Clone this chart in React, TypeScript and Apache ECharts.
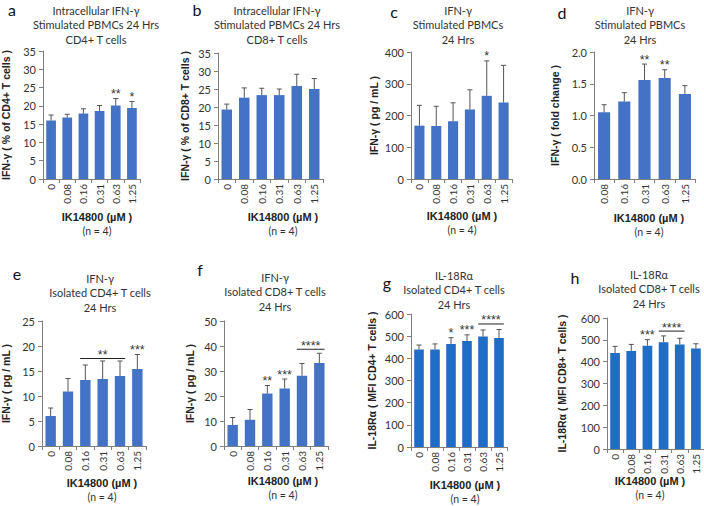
import React, { useEffect, useRef } from "react";
import * as echarts from "echarts";

const CATS6 = ["0", "0.08", "0.16", "0.31", "0.63", "1.25"];
const CATS5 = ["0.08", "0.16", "0.31", "0.63", "1.25"];

const aMean = [16.0, 16.8, 17.9, 18.6, 20.1, 19.4];
const aErr = [1.5, 0.9, 1.3, 1.5, 1.9, 1.8];
const bMean = [19.3, 22.6, 23.3, 23.3, 25.8, 25.0];
const bErr = [1.5, 2.7, 1.9, 1.7, 3.3, 2.9];
const cMean = [168, 167, 182, 219, 262, 241];
const cErr = [64, 62, 58, 62, 110, 117];
const dMean = [1.05, 1.22, 1.56, 1.59, 1.34];
const dErr = [0.12, 0.14, 0.25, 0.13, 0.13];
const eMean = [6.0, 10.9, 13.2, 13.4, 14.0, 15.4];
const eErr = [1.6, 2.6, 3.0, 3.6, 3.0, 2.9];
const fMean = [8.4, 10.5, 21.0, 23.0, 28.1, 33.2];
const fErr = [3.0, 4.1, 3.2, 3.8, 4.9, 3.9];
const gMean = [440, 440, 465, 478, 498, 492];
const gErr = [20, 25, 28, 28, 30, 38];
const hMean = [440, 449, 473, 489, 479, 460];
const hErr = [30, 30, 28, 29, 28, 22];

// significance stars above single bars: [category index, label]
const aStars: [number, string][] = [[4, "**"], [5, "*"]];
const bStars: [number, string][] = [];
const cStars: [number, string][] = [[4, "*"]];
const dStars: [number, string][] = [[2, "**"], [3, "**"]];
const eStars: [number, string][] = [[5, "***"]];
const fStars: [number, string][] = [[2, "**"], [3, "***"]];
const gStars: [number, string][] = [[2, "*"], [3, "***"]];
const hStars: [number, string][] = [[2, "***"]];

// brackets: [start index, end index, y value, label]
const eBrackets: [number, number, number, string][] = [[2, 4, 17.5, "**"]];
const fBrackets: [number, number, number, string][] = [[4, 5, 38.7, "****"]];
const gBrackets: [number, number, number, string][] = [[4, 5, 555, "****"]];
const hBrackets: [number, number, number, string][] = [[3, 4, 540, "****"]];

const yMax = [35, 35, 400, 2.0, 25, 50, 600, 600];
const yStep = [5, 5, 100, 0.5, 5, 10, 100, 100];

const TAGS = ["a", "b", "c", "d", "e", "f", "g", "h"];
const TITLES = [
  "Intracellular IFN-γ\nStimulated PBMCs 24 Hrs\nCD4+ T cells",
  "Intracellular IFN-γ\nStimulated PBMCs 24 Hrs\nCD8+ T cells",
  "IFN-γ\nStimulated PBMCs\n24 Hrs",
  "IFN-γ\nStimulated PBMCs\n24 Hrs",
  "IFN-γ\nIsolated CD4+ T cells\n24 Hrs",
  "IFN-γ\nIsolated CD8+ T cells\n24 Hrs",
  "IL-18Rα\nIsolated CD4+ T cells\n24 Hrs",
  "IL-18Rα\nIsolated CD8+ T cells\n24 Hrs",
];
const YNAMES = [
  "IFN-γ ( % of CD4+ T cells )",
  "IFN-γ ( % of CD8+ T cells )",
  "IFN-γ ( pg / mL )",
  "IFN-γ ( fold change )",
  "IFN-γ ( pg / mL )",
  "IFN-γ ( pg / mL )",
  "IL-18Rα ( MFI CD4+ T cells )",
  "IL-18Rα ( MFI CD8+ T cells )",
];
const XNAME = "IK14800 (µM )";
const NNAME = "(n = 4)";

const PANEL_DATA = [
  { cats: CATS6, mean: aMean, err: aErr, stars: aStars, brackets: [] as [number, number, number, string][] },
  { cats: CATS6, mean: bMean, err: bErr, stars: bStars, brackets: [] as [number, number, number, string][] },
  { cats: CATS6, mean: cMean, err: cErr, stars: cStars, brackets: [] as [number, number, number, string][] },
  { cats: CATS5, mean: dMean, err: dErr, stars: dStars, brackets: [] as [number, number, number, string][] },
  { cats: CATS6, mean: eMean, err: eErr, stars: eStars, brackets: eBrackets },
  { cats: CATS6, mean: fMean, err: fErr, stars: fStars, brackets: fBrackets },
  { cats: CATS6, mean: gMean, err: gErr, stars: gStars, brackets: gBrackets },
  { cats: CATS6, mean: hMean, err: hErr, stars: hStars, brackets: hBrackets },
];

// layout (pixels)
const LAYOUT = [
  { left: 43, top: 51, width: 97, height: 128, tx: 96, ty: 3, tagX: 12, tagY: 9, gap: 32, xx: 97, xy: 217 },
  { left: 218, top: 53, width: 105, height: 126, tx: 277, ty: 3, tagX: 197, tagY: 9, gap: 28, xx: 283, xy: 217 },
  { left: 411, top: 52, width: 101, height: 127, tx: 458, ty: 3, tagX: 394, tagY: 11, gap: 32, xx: 462, xy: 216 },
  { left: 594, top: 52, width: 101, height: 127, tx: 640, ty: 3, tagX: 562, tagY: 12, gap: 34, xx: 649, xy: 218 },
  { left: 42, top: 321, width: 104, height: 125, tx: 100, ty: 271, tagX: 17, tagY: 273, gap: 31, xx: 102, xy: 483 },
  { left: 224, top: 321, width: 104, height: 125, tx: 275, ty: 270, tagX: 200, tagY: 269, gap: 29, xx: 283, xy: 481 },
  { left: 411, top: 314, width: 96, height: 133, tx: 454, ty: 268, tagX: 387, tagY: 282, gap: 34, xx: 465, xy: 485 },
  { left: 607, top: 318, width: 97, height: 131, tx: 649, ty: 267, tagX: 575, tagY: 277, gap: 40, xx: 650, xy: 481 },
];

const FONT = "Lato, 'Open Sans', sans-serif";
const BOLD_FONT = "'Liberation Sans', Arial, sans-serif";
const AXIS_COLOR = "#808080";
const ERR_COLOR = "#555555";
const BAR_COLORS = ["#4472C4", "#4472C4", "#4472C4", "#4472C4", "#4472C4", "#4472C4", "#1F6DC4", "#1F6DC4"];
const STAR_SIZE = 12.5;

export default function App() {
  const ref = useRef<HTMLDivElement>(null);
  useEffect(() => {
    if (!ref.current) return;
    const chart = echarts.init(ref.current, undefined, { renderer: "svg" });
    const grid: any[] = [];
    const xAxis: any[] = [];
    const yAxis: any[] = [];
    const series: any[] = [];
    const graphic: any[] = [];

    PANEL_DATA.forEach((p, i) => {
      const L = LAYOUT[i];
      grid.push({ left: L.left, top: L.top, width: L.width, height: L.height, containLabel: false, outerBoundsMode: "none" });
      xAxis.push({
        type: "category",
        gridIndex: i,
        data: p.cats,
        axisLine: { lineStyle: { color: AXIS_COLOR, width: 1 } },
        axisTick: { show: true, length: 4, lineStyle: { color: AXIS_COLOR } },
        axisLabel: { rotate: 90, interval: 0, fontSize: 10, margin: 5, color: "#333", fontFamily: FONT },
      });
      yAxis.push({
        type: "value",
        gridIndex: i,
        min: 0,
        max: yMax[i],
        interval: yStep[i],
        splitLine: { show: false },
        axisLine: { show: true, lineStyle: { color: AXIS_COLOR, width: 1 } },
        axisTick: { show: true, length: 4, lineStyle: { color: AXIS_COLOR } },
        axisLabel: {
          fontSize: 11,
          color: "#333",
          margin: 7,
          fontFamily: FONT,
          formatter: (v: number) => (i === 3 ? v.toFixed(1) : String(v)),
        },
        name: YNAMES[i],
        nameLocation: "middle",
        nameGap: L.gap,
        nameTextStyle: { fontWeight: "bold", fontSize: 10.5, fontFamily: BOLD_FONT, color: "#222" },
      });
      series.push({
        type: "bar",
        xAxisIndex: i,
        yAxisIndex: i,
        data: p.mean,
        barCategoryGap: "40%",
        itemStyle: { color: BAR_COLORS[i] },
        z: 2,
      });
      series.push({
        type: "custom",
        xAxisIndex: i,
        yAxisIndex: i,
        z: 3,
        clip: false,
        data: p.mean.map((m, k) => [k, m, m + p.err[k]]),
        encode: { x: 0, y: [1, 2] },
        renderItem: (params: any, api: any) => {
          const k = api.value(0);
          const p0 = api.coord([k, api.value(1)]);
          const p1 = api.coord([k, api.value(2)]);
          const cap = 2.5;
          return {
            type: "group",
            children: [
              { type: "line", shape: { x1: p0[0], y1: p0[1], x2: p1[0], y2: p1[1] }, style: { stroke: ERR_COLOR, lineWidth: 1 } },
              { type: "line", shape: { x1: p1[0] - cap, y1: p1[1], x2: p1[0] + cap, y2: p1[1] }, style: { stroke: ERR_COLOR, lineWidth: 1 } },
            ],
          };
        },
      });
      if (p.stars.length) {
        series.push({
          type: "custom",
          xAxisIndex: i,
          yAxisIndex: i,
          z: 4,
          clip: false,
          data: p.stars.map(([k]) => [k, p.mean[k] + p.err[k]]),
          encode: { x: 0, y: 1 },
          renderItem: (params: any, api: any) => {
            const c = api.coord([api.value(0), api.value(1)]);
            return {
              type: "text",
              x: c[0],
              y: c[1] + 2,
              style: {
                text: p.stars[params.dataIndex][1],
                textAlign: "center",
                textVerticalAlign: "bottom",
                fontSize: STAR_SIZE,
                fontFamily: BOLD_FONT,
                fill: "#333",
              },
            };
          },
        });
      }
      if (p.brackets.length) {
        series.push({
          type: "custom",
          xAxisIndex: i,
          yAxisIndex: i,
          z: 4,
          clip: false,
          data: p.brackets.map(([s, e, y]) => [s, e, y]),
          encode: { x: [0, 1], y: 2 },
          renderItem: (params: any, api: any) => {
            const a = api.coord([api.value(0), api.value(2)]);
            const b = api.coord([api.value(1), api.value(2)]);
            const half = api.size([1, 0])[0] * 0.3;
            return {
              type: "group",
              children: [
                { type: "line", shape: { x1: a[0] - half, y1: a[1], x2: b[0] + half, y2: b[1] }, style: { stroke: "#222", lineWidth: 1 } },
                {
                  type: "text",
                  x: (a[0] + b[0]) / 2,
                  y: a[1] + 3,
                  style: {
                    text: p.brackets[params.dataIndex][3],
                    textAlign: "center",
                    textVerticalAlign: "bottom",
                    fontSize: STAR_SIZE,
                    fontFamily: BOLD_FONT,
                    fill: "#333",
                  },
                },
              ],
            };
          },
        });
      }
      graphic.push({
        type: "text",
        x: L.tx,
        y: L.ty,
        style: { text: TITLES[i], textAlign: "center", textVerticalAlign: "top", fontSize: 11, lineHeight: 14.5, fontFamily: FONT, fill: "#333" },
      });
      graphic.push({
        type: "text",
        x: L.tagX,
        y: L.tagY,
        style: { text: TAGS[i], textAlign: "center", textVerticalAlign: "middle", fontSize: 16, fontFamily: FONT, fill: "#111" },
      });
      graphic.push({
        type: "text",
        x: L.xx,
        y: L.xy,
        style: { text: XNAME, textAlign: "center", textVerticalAlign: "middle", fontSize: 11, fontWeight: "bold", fontFamily: BOLD_FONT, fill: "#222" },
      });
      graphic.push({
        type: "text",
        x: L.xx,
        y: L.xy + 14,
        style: { text: NNAME, textAlign: "center", textVerticalAlign: "middle", fontSize: 10.5, fontFamily: FONT, fill: "#333" },
      });
    });

    chart.setOption({
      animation: false,
      backgroundColor: "#ffffff",
      grid,
      xAxis,
      yAxis,
      series,
      graphic,
    });
    return () => chart.dispose();
  }, []);
  return <div ref={ref} style={{ position: "fixed", left: 0, top: 0, width: 704, height: 506 }} />;
}
